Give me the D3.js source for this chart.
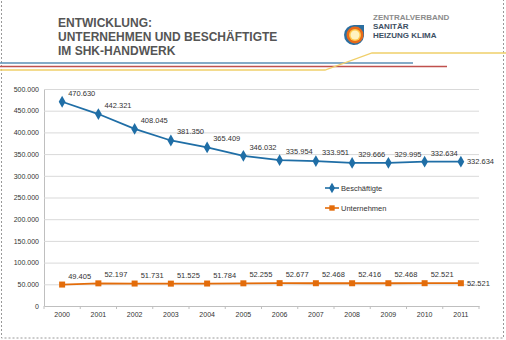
<!DOCTYPE html>
<html>
<head>
<meta charset="utf-8">
<script src="https://cdn.jsdelivr.net/npm/d3@7"></script>
<style>
  body { margin: 0; background: #fff; }
  svg { display: block; font-family: "Liberation Sans", Arial, sans-serif; }
  .title { font-weight: bold; font-size: 12px; fill: #555; }
  .tick text { font-size: 7px; fill: #333; }
  .lbl { font-size: 7.5px; fill: #333; }
</style>
</head>
<body>
<svg width="506" height="340"></svg>
<script>
// chart data
const years = ["2000","2001","2002","2003","2004","2005","2006","2007","2008","2009","2010","2011"];
const beschaeftigte = [470630, 442321, 408045, 381350, 365409, 346032, 335954, 333951, 329666, 329995, 332634, 332634];
const unternehmen = [49405, 52197, 51731, 51525, 51784, 52255, 52677, 52468, 52416, 52468, 52521, 52521];
const yTicks = [0, 50000, 100000, 150000, 200000, 250000, 300000, 350000, 400000, 450000, 500000];
const titleLines = ["ENTWICKLUNG:", "UNTERNEHMEN UND BESCHÄFTIGTE", "IM SHK-HANDWERK"];

const fmt = v => d3.format(",")(v).replace(/,/g, ".");

const svg = d3.select("svg");

// dotted frame
svg.append("rect")
   .attr("x", 1.5).attr("y", -3)
   .attr("width", 502).attr("height", 341)
   .attr("fill", "none")
   .attr("stroke", "#999")
   .attr("stroke-dasharray", "2,2");

// header
svg.append("g").selectAll("text")
   .data(titleLines)
   .enter().append("text")
   .classed("title", true)
   .attr("x", 58)
   .attr("y", (d, i) => 26.5 + i * 14)
   .text(d => d);

// decorative stripes
svg.append("line").attr("x1", 0).attr("x2", 413).attr("y1", 63).attr("y2", 63)
   .attr("stroke", "#5b8fb5").attr("stroke-width", 1.3);
svg.append("line").attr("x1", 0).attr("x2", 447).attr("y1", 66.5).attr("y2", 66.5)
   .attr("stroke", "#c0504d").attr("stroke-width", 1.3);
svg.append("path").attr("d", "M0,70 L325,70 L372,53 L506,53")
   .attr("fill", "none").attr("stroke", "#f0cf6a").attr("stroke-width", 1.3);

// logo
const logo = svg.append("g").attr("transform", "translate(355,35)");
logo.append("path")
    .attr("d", "M0,-11 L10,-11 L10,0 A10,10 0 1 1 0,-11 Z")
    .attr("transform", "translate(-1,1)")
    .attr("fill", "#2c6fa0");
logo.append("circle").attr("r", 8.5).attr("fill", "#e86a1a");
logo.append("circle").attr("r", 6).attr("fill", "#ffc94a");
logo.append("circle").attr("r", 4.5).attr("fill", "#fff3c0");
const logoText = svg.append("g").attr("font-weight", "bold").attr("font-size", "8px");
logoText.append("text").attr("x", 373).attr("y", 20).attr("fill", "#8c8c8c").text("ZENTRALVERBAND");
logoText.append("text").attr("x", 373).attr("y", 29).attr("fill", "#3d4f63").text("SANITÄR");
logoText.append("text").attr("x", 373).attr("y", 38).attr("fill", "#3d4f63").text("HEIZUNG KLIMA");

// scales
const x = d3.scaleBand().domain(years).range([44, 479]);
const y = d3.scaleLinear().domain([0, 500000]).range([306, 89]);
const cx = d => x(d) + x.bandwidth() / 2;

// grid + y axis
const yAxis = svg.append("g")
   .attr("transform", "translate(44,0)")
   .call(d3.axisLeft(y).tickValues(yTicks).tickFormat(fmt).tickSize(0).tickPadding(5));
yAxis.select(".domain").attr("stroke", "#bfbfbf");
yAxis.selectAll(".tick line")
     .attr("x2", 435).attr("stroke", "#d9d9d9");
yAxis.selectAll(".tick").filter(d => d === 0).select("line").remove();

// x axis
const xAxis = svg.append("g")
   .attr("transform", "translate(0,306)")
   .call(d3.axisBottom(x).tickSize(0).tickPadding(6));
xAxis.select(".domain").attr("stroke", "#bfbfbf");
xAxis.selectAll(".sep")
     .data(years.concat(["end"]))
     .enter().append("line")
     .attr("x1", (d, i) => 44 + i * x.bandwidth())
     .attr("x2", (d, i) => 44 + i * x.bandwidth())
     .attr("y1", 0).attr("y2", 3)
     .attr("stroke", "#bfbfbf");

// series
const series = [
  { name: "Beschäftigte", values: beschaeftigte, color: "#1f6ea6", marker: d3.symbolDiamond, mSize: 40, legendY: 188 },
  { name: "Unternehmen", values: unternehmen, color: "#e36c0a", marker: d3.symbolSquare, mSize: 36, legendY: 208 }
];

const line = d3.line().x((d, i) => cx(years[i])).y(d => y(d));

series.forEach(s => {
  svg.append("path")
     .datum(s.values)
     .attr("d", line)
     .attr("fill", "none")
     .attr("stroke", s.color)
     .attr("stroke-width", 1.8);

  svg.append("g").selectAll("path")
     .data(s.values)
     .enter().append("path")
     .attr("d", d3.symbol().type(s.marker).size(s.mSize))
     .attr("transform", (d, i) => `translate(${cx(years[i])},${y(d)})`)
     .attr("fill", s.color);

  svg.append("g").selectAll("text")
     .data(s.values)
     .enter().append("text")
     .classed("lbl", true)
     .attr("x", (d, i) => cx(years[i]) + 6)
     .attr("y", (d, i) => i === years.length - 1 ? y(d) + 2.5 : y(d) - 6)
     .text(d => fmt(d));

  // legend
  const lg = svg.append("g").attr("transform", `translate(325,${s.legendY})`);
  lg.append("line").attr("x1", 0).attr("x2", 14).attr("stroke", s.color).attr("stroke-width", 1.6);
  lg.append("path").attr("d", d3.symbol().type(s.marker).size(s.mSize * 0.8)).attr("transform", "translate(7,0)").attr("fill", s.color);
  lg.append("text").classed("lbl", true).attr("x", 16).attr("y", 2.5).text(s.name);
});
</script>
</body>
</html>
